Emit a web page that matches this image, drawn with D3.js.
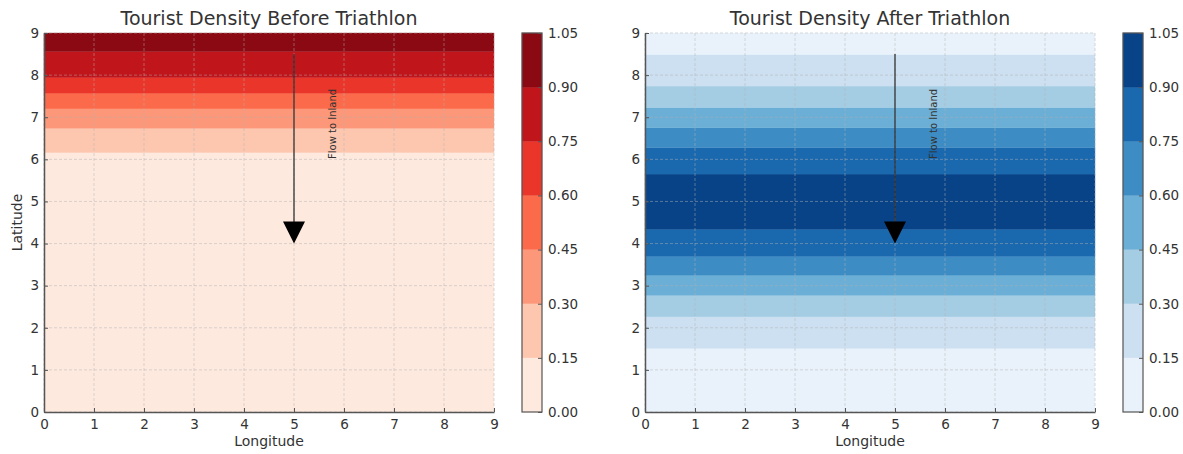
<!DOCTYPE html>
<html>
<head>
<meta charset="utf-8">
<script src="https://cdn.jsdelivr.net/npm/d3@7"></script>
<style>
  body { margin: 0; background: #fff; }
  svg text { font-family: "DejaVu Sans", sans-serif; fill: #333; }
</style>
</head>
<body>
<div id="chart"></div>
<script>
// density profiles (density only varies with latitude)
const beforeLatitude = [0, 6.16, 6.74, 7.20, 7.57, 7.94, 8.56, 9];
const beforeDensity = [0.05, 0.15, 0.30, 0.45, 0.60, 0.75, 0.90, 1.00];

const afterLatitude = [0, 1.51, 2.26, 2.77, 3.25, 3.70, 4.34, 5.0, 5.65, 6.28, 6.75, 7.23, 7.74, 8.49, 9];
const afterDensity = [0.02, 0.15, 0.30, 0.45, 0.60, 0.75, 0.90, 1.00, 0.90, 0.75, 0.60, 0.45, 0.30, 0.15, 0.07];

const levels = [0, 0.15, 0.30, 0.45, 0.60, 0.75, 0.90, 1.05];
const levelLabels = ["0.00", "0.15", "0.30", "0.45", "0.60", "0.75", "0.90", "1.05"];
const axisTicks = [0, 1, 2, 3, 4, 5, 6, 7, 8, 9];

const redsAnchors = ["#fff5f0", "#fee0d2", "#fcbba1", "#fc9272", "#fb6a4a", "#ef3b2c", "#cb181d", "#a50f15", "#67000d"];
const bluesAnchors = ["#f7fbff", "#deebf7", "#c6dbef", "#9ecae1", "#6baed6", "#4292c6", "#2171b5", "#08519c", "#08306b"];

const svgWidth = 1183;
const svgHeight = 454;

const svg = d3.select("#chart").append("svg")
  .attr("width", svgWidth)
  .attr("height", svgHeight);

function makeCmap(anchors) {
  return d3.scaleLinear()
    .domain(anchors.map((c, i) => i / (anchors.length - 1)))
    .range(anchors)
    .interpolate(d3.interpolateRgb)
    .clamp(true);
}

// split a piecewise-linear profile into contour bands
function bandsFor(lat, dens) {
  const pieces = [];
  for (let i = 0; i < lat.length - 1; i++) {
    const a = lat[i], b = lat[i + 1], da = dens[i], db = dens[i + 1];
    const cuts = [a, b];
    levels.forEach(t => {
      if (da !== db && (t - da) * (t - db) < 0) {
        cuts.push(a + (t - da) / (db - da) * (b - a));
      }
    });
    cuts.sort((p, q) => p - q);
    for (let k = 0; k < cuts.length - 1; k++) {
      const m = (cuts[k] + cuts[k + 1]) / 2;
      const dm = da + (m - a) / (b - a) * (db - da);
      let band = d3.bisectRight(levels, dm) - 1;
      band = Math.max(0, Math.min(levels.length - 2, band));
      const last = pieces[pieces.length - 1];
      if (last && last.band === band) last.hi = cuts[k + 1];
      else pieces.push({ lo: cuts[k], hi: cuts[k + 1], band: band });
    }
  }
  return pieces;
}

function drawPanel(opts) {
  const left = opts.left, right = opts.left + 450;
  const top = 33, bottom = 412;
  const cmap = makeCmap(opts.anchors);
  const bandColor = i => cmap((levels[i] + levels[i + 1]) / 2 / levels[levels.length - 1]);

  const x = d3.scaleLinear().domain([0, 9]).range([left, right]);
  const y = d3.scaleLinear().domain([0, 9]).range([bottom, top]);

  const g = svg.append("g");

  g.selectAll("rect.band")
    .data(bandsFor(opts.lat, opts.dens))
    .enter()
    .append("rect")
    .attr("class", "band")
    .attr("x", x(0))
    .attr("width", x(9) - x(0))
    .attr("y", d => y(d.hi))
    .attr("height", d => y(d.lo) - y(d.hi))
    .attr("fill", d => bandColor(d.band))
    .attr("stroke", d => bandColor(d.band))
    .attr("stroke-width", 0.3);

  // dashed grid
  const grid = g.append("g")
    .attr("stroke", "#b0b0b0")
    .attr("stroke-opacity", 0.6)
    .attr("stroke-width", 0.8)
    .attr("stroke-dasharray", "3,2");
  grid.selectAll("line.gx")
    .data(axisTicks)
    .enter()
    .append("line")
    .attr("x1", d => x(d)).attr("x2", d => x(d))
    .attr("y1", top).attr("y2", bottom);
  grid.selectAll("line.gy")
    .data(axisTicks)
    .enter()
    .append("line")
    .attr("y1", d => y(d)).attr("y2", d => y(d))
    .attr("x1", left).attr("x2", right);

  // axes with inward ticks
  const xAxis = g.append("g")
    .attr("transform", `translate(0,${bottom})`)
    .call(d3.axisBottom(x).tickValues(axisTicks).tickSizeInner(-4).tickSizeOuter(0).tickPadding(7));
  const yAxis = g.append("g")
    .attr("transform", `translate(${left},0)`)
    .call(d3.axisLeft(y).tickValues(axisTicks).tickSizeInner(-4).tickSizeOuter(0).tickPadding(5));
  [xAxis, yAxis].forEach(ax => {
    ax.select(".domain").attr("stroke", "#555").attr("stroke-width", 1.5);
    ax.selectAll(".tick line").attr("stroke", "#555");
    ax.selectAll(".tick text").attr("font-size", 13.5).attr("fill", "#333");
  });

  // arrow "Flow to Inland"
  g.append("line")
    .attr("x1", x(5)).attr("x2", x(5))
    .attr("y1", y(8.5)).attr("y2", y(4) - 20)
    .attr("stroke", "#333")
    .attr("stroke-width", 1.3);
  g.append("path")
    .attr("d", `M${x(5)},${y(4)} L${x(5) - 11},${y(4) - 22} L${x(5) + 11},${y(4) - 22} Z`)
    .attr("fill", "#000");
  g.append("text")
    .attr("transform", `translate(${x(5.78)},${y(6.84)}) rotate(-90)`)
    .attr("text-anchor", "middle")
    .attr("dominant-baseline", "middle")
    .attr("font-size", 10)
    .attr("fill", "#444")
    .text("Flow to Inland");

  g.append("text")
    .attr("x", (left + right) / 2)
    .attr("y", 25)
    .attr("text-anchor", "middle")
    .attr("font-size", 19)
    .attr("fill", "#404040")
    .text(opts.title);

  g.append("text")
    .attr("x", (left + right) / 2)
    .attr("y", 446)
    .attr("text-anchor", "middle")
    .attr("font-size", 14)
    .text("Longitude");

  if (opts.yLabel) {
    g.append("text")
      .attr("transform", `translate(22,${(top + bottom) / 2}) rotate(-90)`)
      .attr("text-anchor", "middle")
      .attr("font-size", 14)
      .text(opts.yLabel);
  }

  // colorbar
  const cbLeft = opts.cbLeft, cbW = 20;
  const cy = d3.scaleLinear().domain([0, 1.05]).range([bottom, top]);
  const cb = svg.append("g");
  cb.selectAll("rect")
    .data(d3.range(levels.length - 1))
    .enter()
    .append("rect")
    .attr("x", cbLeft)
    .attr("width", cbW)
    .attr("y", i => cy(levels[i + 1]))
    .attr("height", i => cy(levels[i]) - cy(levels[i + 1]))
    .attr("fill", i => bandColor(i))
    .attr("stroke", i => bandColor(i))
    .attr("stroke-width", 0.3);
  cb.append("rect")
    .attr("x", cbLeft).attr("y", top)
    .attr("width", cbW).attr("height", bottom - top)
    .attr("fill", "none")
    .attr("stroke", "#555")
    .attr("stroke-width", 1.2);
  const cbAxis = cb.append("g")
    .attr("transform", `translate(${cbLeft + cbW},0)`)
    .call(d3.axisRight(cy).tickValues(levels).tickFormat((d, i) => levelLabels[i]).tickSizeInner(-4).tickSizeOuter(0).tickPadding(6));
  cbAxis.select(".domain").remove();
  cbAxis.selectAll(".tick line").attr("stroke", "#555");
  cbAxis.selectAll(".tick text").attr("font-size", 13.5).attr("fill", "#333");
}

drawPanel({
  left: 44, cbLeft: 522,
  lat: beforeLatitude, dens: beforeDensity,
  anchors: redsAnchors,
  title: "Tourist Density Before Triathlon",
  yLabel: "Latitude"
});

drawPanel({
  left: 645, cbLeft: 1123,
  lat: afterLatitude, dens: afterDensity,
  anchors: bluesAnchors,
  title: "Tourist Density After Triathlon",
  yLabel: null
});
</script>
</body>
</html>
